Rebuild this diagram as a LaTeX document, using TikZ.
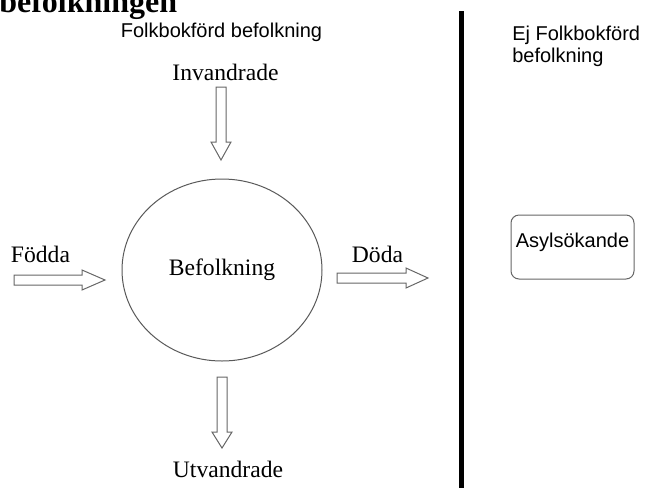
\documentclass[tikz,border=0pt]{standalone}
\usepackage{fontspec}
\setmainfont{Liberation Serif}
\setsansfont{Liberation Sans}
\usetikzlibrary{shapes.geometric,calc}

\newcommand{\flowarrow}[4]{%
\draw[blockarrow, shift={#1}, rotate=#2] (0,-5) -- (#3-#4,-5) -- (#3-#4,-10) -- (#3,0) -- (#3-#4,10) -- (#3-#4,5) -- (0,5) -- cycle;}

\begin{document}
\begin{tikzpicture}[x=0.75pt,y=-0.75pt]
\path [use as bounding box] (0,0) rectangle (647,487);
\tikzstyle{every node} = [inner sep=0pt]
\tikzstyle{serif} = [font=\fontsize{17.7}{20}\selectfont, anchor=base]
\tikzstyle{sans} = [font=\sffamily\fontsize{15}{16.5}\selectfont]
\tikzstyle{blockarrow} = [draw=black!60, line width=0.75pt, line join=miter]
\node[anchor=base west, font=\bfseries\fontsize{24}{28}\selectfont] (title) at (-1,12) {befolkningen};
\node[sans, anchor=base] (folk) at (221.5,37) {Folkbokförd befolkning};
\node[sans, anchor=north west, align=left] (ejfolk) at (512,26) {Ej Folkbokförd\\befolkning};
\node[serif] (inv) at (225.5,80) {Invandrade};
\node[ellipse, draw=black!65, line width=0.75pt, minimum width=150pt, minimum height=136.5pt,
      font=\fontsize{17.7}{20}\selectfont] (befolk) at (222,270) {Befolkning};
\node[serif] (fodda) at (40.5,262) {Födda};
\node[serif] (doda) at (377.5,262) {Döda};
\node[serif] (utv) at (228,477) {Utvandrade};
\node[sans, draw=black!60, line width=0.75pt, rounded corners=6pt, minimum width=92.25pt,
      minimum height=48pt, text height=10.5pt, text depth=10.5pt] (asyl) at (572.5,247) {Asylsökande};
\coordinate (invstart) at (221,87);
\coordinate (utvstart) at (222,377);
\coordinate (foddastart) at (14,280);
\coordinate (dodastart) at (337,278);
\flowarrow{(invstart)}{-90}{73}{18}
\flowarrow{(utvstart)}{-90}{71}{16}
\flowarrow{(foddastart)}{0}{91}{23}
\flowarrow{(dodastart)}{0}{91}{22}
\draw[line width=3.75pt] (461,11) -- (461,490);
\end{tikzpicture}
\end{document}
